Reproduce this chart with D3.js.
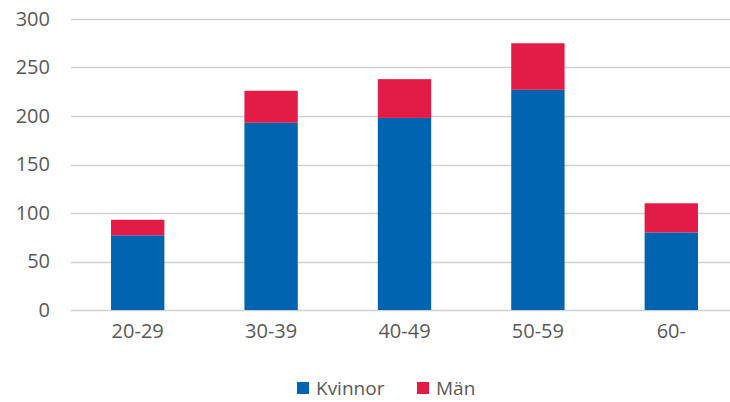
<!DOCTYPE html>
<html>
<head>
<meta charset="utf-8">
<script src="https://cdn.jsdelivr.net/npm/d3@7"></script>
<style>
  body { margin: 0; background: #fff; }
  text { font-family: "Open Sans", sans-serif; fill: #595959; }
</style>
</head>
<body>
<svg id="chart"></svg>
<script>
// Age groups and counts per sex
var categories = ["20-29", "30-39", "40-49", "50-59", "60-"];
var kvinnor = [77, 193, 198, 227, 80];
var man = [16, 33, 40, 48, 30];
var seriesNames = ["Kvinnor", "Män"];
var yTicks = [0, 50, 100, 150, 200, 250, 300];

var width = 730,
    height = 402,
    margin = { top: 19, right: -8, bottom: 92, left: 71 };

var colour = d3.scaleOrdinal()
  .domain(seriesNames)
  .range(["#0064b0", "#e31b47"]);

var svg = d3.select("#chart")
  .attr("width", width)
  .attr("height", height);

var x = d3.scaleBand()
  .domain(categories)
  .range([margin.left, width - margin.right])
  .paddingInner(0.6)
  .paddingOuter(0.3);

var y = d3.scaleLinear()
  .domain([0, 300])
  .range([height - margin.bottom, margin.top]);

// Gridlines
svg.append("g")
  .selectAll("line")
  .data(yTicks)
  .enter().append("line")
    .attr("x1", margin.left)
    .attr("x2", width)
    .attr("y1", function(d) { return Math.round(y(d)) + 0.5; })
    .attr("y2", function(d) { return Math.round(y(d)) + 0.5; })
    .attr("stroke", "#d0d0d0")
    .attr("stroke-width", 1.5);

// Y labels
var yAxis = svg.append("g")
  .attr("transform", "translate(" + 50 + ",0)")
  .call(d3.axisLeft(y).tickValues(yTicks).tickSize(0).tickPadding(0));
yAxis.select(".domain").remove();
yAxis.selectAll("text")
  .attr("font-size", 20)
  .style("font-family", "Open Sans, sans-serif")
  .attr("fill", "#595959");

// X labels
var xAxis = svg.append("g")
  .attr("transform", "translate(0," + (height - margin.bottom) + ")")
  .call(d3.axisBottom(x).tickSize(0).tickPadding(14));
xAxis.select(".domain").remove();
xAxis.selectAll("text")
  .attr("font-size", 20)
  .style("font-family", "Open Sans, sans-serif")
  .attr("fill", "#595959");

// Stacked data
var table = categories.map(function(c, i) {
  return { cat: c, "Kvinnor": kvinnor[i], "Män": man[i] };
});
var stacked = d3.stack().keys(seriesNames)(table);

svg.append("g")
  .selectAll("g")
  .data(stacked)
  .enter().append("g")
    .attr("fill", function(d) { return colour(d.key); })
  .selectAll("rect")
  .data(function(d) { return d; })
  .enter().append("rect")
    .attr("x", function(d) { return x(d.data.cat); })
    .attr("y", function(d) { return y(d[1]); })
    .attr("width", x.bandwidth())
    .attr("height", function(d) { return y(d[0]) - y(d[1]); });

// Legend
var legend = svg.append("g")
  .attr("transform", "translate(297,382)");

var item = legend.selectAll("g")
  .data(seriesNames)
  .enter().append("g")
    .attr("transform", function(d, i) { return "translate(" + (i * 120) + ",0)"; });

item.append("rect")
  .attr("width", 12)
  .attr("height", 12)
  .attr("fill", function(d) { return colour(d); });

item.append("text")
  .attr("x", 19)
  .attr("y", 6)
  .attr("dy", "0.35em")
  .attr("font-size", 19)
  .text(function(d) { return d; });
</script>
</body>
</html>
